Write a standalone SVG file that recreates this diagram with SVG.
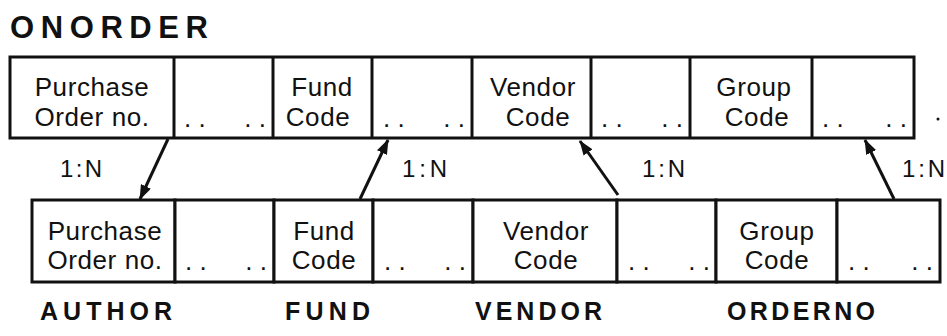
<svg xmlns="http://www.w3.org/2000/svg" width="947" height="336" viewBox="0 0 947 336">
<style>
  .box { fill: #fff; stroke: #111; stroke-width: 3; }
  .div { stroke: #111; stroke-width: 3; }
  .cell { font-family: "Liberation Sans", Arial, sans-serif; font-size: 26px; fill: #111; text-anchor: middle; letter-spacing: 0.6px; }
  .dots { font-family: "Liberation Sans", Arial, sans-serif; font-size: 26px; fill: #111; }
  .head { font-family: "Liberation Sans", Arial, sans-serif; font-size: 25px; font-weight: bold; fill: #111; }
  .title { font-family: "Liberation Sans", Arial, sans-serif; font-size: 31px; font-weight: bold; fill: #111; }
  .rel { font-family: "Liberation Sans", Arial, sans-serif; font-size: 24px; fill: #111; }
  .conn { stroke: #111; stroke-width: 3; fill: none; marker-end: url(#arr); }
</style>
<defs>
  <marker id="arr" viewBox="0 0 15 11" refX="14" refY="5.5" markerWidth="15" markerHeight="11" markerUnits="userSpaceOnUse" orient="auto">
    <path d="M0,0 L15,5.5 L0,11 z" fill="#111"/>
  </marker>
</defs>
<rect width="947" height="336" fill="#fff"/>

<g id="onorder">
  <text class="title" x="10" y="38" textLength="198" lengthAdjust="spacing">ONORDER</text>
  <rect class="box" x="10" y="57" width="904" height="81"/>
  <line class="div" x1="174" y1="57" x2="174" y2="138"/>
  <line class="div" x1="273" y1="57" x2="273" y2="138"/>
  <line class="div" x1="372" y1="57" x2="372" y2="138"/>
  <line class="div" x1="472" y1="57" x2="472" y2="138"/>
  <line class="div" x1="591" y1="57" x2="591" y2="138"/>
  <line class="div" x1="690" y1="57" x2="690" y2="138"/>
  <line class="div" x1="812" y1="57" x2="812" y2="138"/>
  <text class="cell" x="92" y="96">Purchase</text>
  <text class="cell" x="92" y="126">Order no.</text>
  <text class="dots" x="184" y="127">. .</text>
  <text class="dots" x="266" y="127" text-anchor="end">. .</text>
  <text class="cell" x="322" y="96">Fund</text>
  <text class="cell" x="318" y="126">Code</text>
  <text class="dots" x="383" y="127">. .</text>
  <text class="dots" x="465" y="127" text-anchor="end">. .</text>
  <text class="cell" x="533" y="96">Vendor</text>
  <text class="cell" x="538" y="126">Code</text>
  <text class="dots" x="601" y="127">. .</text>
  <text class="dots" x="683" y="127" text-anchor="end">. .</text>
  <text class="cell" x="754" y="96">Group</text>
  <text class="cell" x="757" y="126">Code</text>
  <text class="dots" x="822" y="127">. .</text>
  <text class="dots" x="907" y="127" text-anchor="end">. .</text>
  <circle cx="938" cy="119" r="1.5" fill="#111"/>
</g>

<g id="author">
  <rect class="box" x="32" y="200" width="143" height="82"/>
  <rect class="box" x="175" y="200" width="99" height="82"/>
  <text class="cell" x="105" y="240">Purchase</text>
  <text class="cell" x="105" y="269">Order no.</text>
  <text class="dots" x="185" y="270">. .</text>
  <text class="dots" x="267" y="270" text-anchor="end">. .</text>
  <text class="head" x="40" y="320" textLength="132" lengthAdjust="spacing">AUTHOR</text>
</g>

<g id="fund">
  <rect class="box" x="274" y="200" width="99" height="82"/>
  <rect class="box" x="373" y="200" width="100" height="82"/>
  <text class="cell" x="324" y="240">Fund</text>
  <text class="cell" x="324" y="269">Code</text>
  <text class="dots" x="384" y="270">. .</text>
  <text class="dots" x="466" y="270" text-anchor="end">. .</text>
  <text class="head" x="285" y="320" textLength="85" lengthAdjust="spacing">FUND</text>
</g>

<g id="vendor">
  <rect class="box" x="473" y="200" width="144" height="82"/>
  <rect class="box" x="617" y="200" width="99" height="82"/>
  <text class="cell" x="546" y="240">Vendor</text>
  <text class="cell" x="546" y="269">Code</text>
  <text class="dots" x="628" y="270">. .</text>
  <text class="dots" x="710" y="270" text-anchor="end">. .</text>
  <text class="head" x="475" y="320" textLength="127" lengthAdjust="spacing">VENDOR</text>
</g>

<g id="orderno">
  <rect class="box" x="716" y="200" width="121" height="82"/>
  <rect class="box" x="837" y="200" width="103" height="82"/>
  <text class="cell" x="777" y="240">Group</text>
  <text class="cell" x="777" y="269">Code</text>
  <text class="dots" x="848" y="270">. .</text>
  <text class="dots" x="933" y="270" text-anchor="end">. .</text>
  <text class="head" x="727" y="320" textLength="148" lengthAdjust="spacing">ORDERNO</text>
</g>

<g id="connectors">
  <line class="conn" x1="168" y1="139" x2="140" y2="199"/>
  <line class="conn" x1="360" y1="199" x2="388" y2="140"/>
  <line class="conn" x1="618" y1="195" x2="580" y2="141"/>
  <line class="conn" x1="894" y1="199" x2="865" y2="140"/>
  <text class="rel" x="60" y="177" textLength="42" lengthAdjust="spacing">1:N</text>
  <text class="rel" x="402" y="177" textLength="45" lengthAdjust="spacing">1:N</text>
  <text class="rel" x="642" y="177" textLength="43" lengthAdjust="spacing">1:N</text>
  <text class="rel" x="902" y="177" textLength="43" lengthAdjust="spacing">1:N</text>
</g>
</svg>
